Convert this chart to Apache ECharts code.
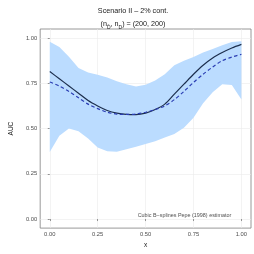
<!DOCTYPE html>
<html>
<head>
<meta charset="utf-8">
<script src="https://cdn.jsdelivr.net/npm/echarts@6/dist/echarts.min.js"></script>
<style>html,body{margin:0;padding:0;background:#fff;}#c{width:254px;height:254px;}</style>
</head>
<body>
<div id="c"></div>
<script>
var xs = [0,0.05,0.1,0.15,0.2,0.25,0.3,0.35,0.4,0.45,0.5,0.55,0.6,0.65,0.7,0.75,0.8,0.85,0.9,0.95,1.0];
var upper = [0.98,0.95,0.897,0.835,0.81,0.797,0.782,0.762,0.745,0.733,0.742,0.765,0.80,0.85,0.875,0.895,0.92,0.94,0.96,0.978,0.983];
var lower = [0.37,0.46,0.50,0.485,0.445,0.395,0.375,0.372,0.385,0.40,0.415,0.43,0.45,0.47,0.505,0.56,0.64,0.70,0.745,0.74,0.66];
var trueAUC = [0.815,0.775,0.735,0.695,0.655,0.625,0.60,0.585,0.578,0.577,0.585,0.605,0.635,0.69,0.745,0.80,0.85,0.89,0.92,0.945,0.965];
var estAUC = [0.757,0.735,0.705,0.67,0.635,0.61,0.59,0.58,0.578,0.58,0.59,0.605,0.625,0.66,0.705,0.755,0.80,0.84,0.875,0.895,0.91];
var xTicks = [0,0.25,0.5,0.75,1];
var yTicks = [0,0.25,0.5,0.75,1];
var titleLine1 = 'Scenario II \u2013 2% cont.';
var annotation = 'Cubic B\u2212splines Pepe (1998) estimator';

var chart = echarts.init(document.getElementById('c'), null, {renderer:'canvas'});
var font = 'Liberation Sans, Arial, sans-serif';
function pairs(v){ return xs.map(function(x,i){return [x,v[i]];}); }
var band = xs.map(function(x,i){return [x, lower[i], upper[i]];});

chart.setOption({
  animation:false,
  title:[{
    text: titleLine1 + '\n(n{sub|D\u0304}, n{sub|D}) = (200, 200)',
    left: 128, top: 0, textAlign:'center',
    textStyle:{fontFamily:font,fontSize:7.2,fontWeight:'normal',color:'#1a1a1a',lineHeight:12.5,
      rich:{sub:{fontFamily:font,fontSize:5,color:'#1a1a1a',verticalAlign:'bottom',padding:[3,0,0,0],lineHeight:12.5}}}
  }],
  grid:{left:25,right:3,top:29,bottom:18.5,show:true,borderColor:'#7f7f7f',borderWidth:0.8,backgroundColor:'#fff'},
  xAxis:{type:'value',min:-0.05,max:1.05,interval:0.125,
    name:'x',nameLocation:'middle',nameGap:12,nameTextStyle:{fontFamily:font,fontSize:6.5,color:'#1a1a1a'},
    axisLine:{show:false},
    axisTick:{show:true,length:2,lineStyle:{color:'#333',width:0.5},customValues:xTicks},
    axisLabel:{fontFamily:font,fontSize:5.8,color:'#4d4d4d',margin:3,customValues:xTicks,formatter:function(v){return v.toFixed(2);}},
    splitLine:{show:true,lineStyle:{color:'#ebebeb',width:0.6}}},
  yAxis:{type:'value',min:-0.05,max:1.05,interval:0.125,
    name:'AUC',nameLocation:'middle',nameGap:19,nameRotate:90,nameTextStyle:{fontFamily:font,fontSize:6.5,color:'#1a1a1a'},
    axisLine:{show:false},
    axisTick:{show:true,length:2,lineStyle:{color:'#333',width:0.5},customValues:yTicks},
    axisLabel:{fontFamily:font,fontSize:5.8,color:'#4d4d4d',margin:3,customValues:yTicks,formatter:function(v){return v.toFixed(2);}},
    splitLine:{show:true,lineStyle:{color:'#ebebeb',width:0.6}}},
  series:[
    {type:'custom',data:band,z:2,
      renderItem:function(params,api){
        if(params.dataIndex!==0) return null;
        var top=[],bot=[];
        for(var i=0;i<band.length;i++){
          top.push(api.coord([band[i][0],band[i][2]]));
          bot.push(api.coord([band[i][0],band[i][1]]));
        }
        var pts = top.concat(bot.reverse());
        return {type:'polygon',shape:{points:pts,smooth:0},style:{fill:'#bbdcff',stroke:null}};
      },
      encode:{x:0,y:[1,2]}, silent:true},
    {type:'line',data:pairs(trueAUC),smooth:0.3,showSymbol:false,z:4,
      lineStyle:{color:'#1c2e4d',width:1.2}},
    {type:'line',data:pairs(estAUC),smooth:0.3,showSymbol:false,z:5,
      lineStyle:{color:'#2a3db3',width:1.2,type:[3.5,2.5]}},
    {type:'scatter',data:[[0.703,0.018]],symbolSize:0,silent:true,
      label:{show:true,position:'inside',formatter:annotation,fontFamily:font,fontSize:5.4,color:'#1a1a1a'}}
  ]
});
</script>
</body>
</html>
